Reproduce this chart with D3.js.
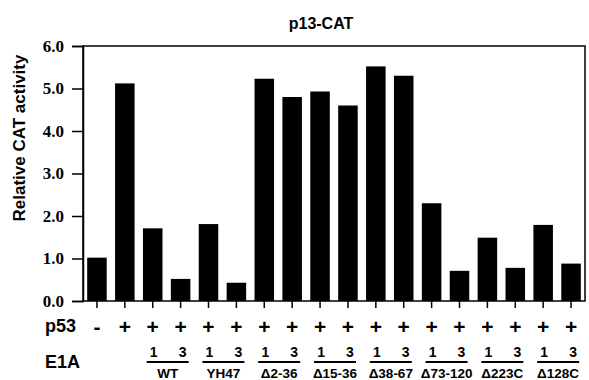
<!DOCTYPE html>
<html>
<head>
<meta charset="utf-8">
<script src="https://cdn.jsdelivr.net/npm/d3@7"></script>
<style>
  body { margin: 0; background: #fff; }
  svg { display: block; }
</style>
</head>
<body>
<div id="chart"></div>
<script>
// data
var lanes = ["ctrl", "p53", "WT-1", "WT-3", "YH47-1", "YH47-3", "d2-36-1", "d2-36-3",
    "d15-36-1", "d15-36-3", "d38-67-1", "d38-67-3", "d73-120-1", "d73-120-3",
    "d223C-1", "d223C-3", "d128C-1", "d128C-3"];
var activity = [1.02, 5.12, 1.71, 0.52, 1.81, 0.43, 5.23, 4.8, 4.93, 4.6, 5.52, 5.3,
    2.3, 0.71, 1.49, 0.78, 1.79, 0.88];
var p53Signs = ["-", "+", "+", "+", "+", "+", "+", "+", "+", "+", "+", "+", "+", "+", "+", "+", "+", "+"];
var groupNames = ["WT", "YH47", "\u03942-36", "\u039415-36", "\u039438-67", "\u039473-120", "\u0394223C", "\u0394128C"];
var doses = ["1", "3"];
var yTicks = [0, 1, 2, 3, 4, 5, 6];

var width = 589, height = 380;
var margin = {top: 46, right: 4, bottom: 79, left: 83};
var sans = "'Liberation Sans', Arial, sans-serif";
var serif = "'Liberation Serif', 'Times New Roman', serif";

var svg = d3.select("#chart").append("svg")
    .attr("width", width)
    .attr("height", height);

var x = d3.scaleBand()
    .domain(lanes)
    .range([margin.left, width - margin.right])
    .paddingInner(0.3)
    .paddingOuter(0.15);

var y = d3.scaleLinear()
    .domain([0, 6])
    .range([height - margin.bottom, margin.top]);

// title
svg.append("text")
    .attr("x", 321)
    .attr("y", 29)
    .attr("text-anchor", "middle")
    .style("font-family", sans)
    .style("font-weight", "bold")
    .style("font-size", "16px")
    .text("p13-CAT");

// bars
svg.selectAll("rect.bar")
    .data(activity)
    .enter()
    .append("rect")
    .attr("class", "bar")
    .attr("x", function (d, i) { return x(lanes[i]); })
    .attr("y", function (d) { return y(d); })
    .attr("width", x.bandwidth())
    .attr("height", function (d) { return y(0) - y(d); })
    .attr("fill", "#000");

// frame
svg.append("rect")
    .attr("x", margin.left)
    .attr("y", margin.top)
    .attr("width", width - margin.right - margin.left)
    .attr("height", y(0) - margin.top)
    .attr("fill", "none")
    .attr("stroke", "#000")
    .attr("stroke-width", 1.5);

// y axis
var yAxis = svg.append("g")
    .attr("transform", "translate(" + margin.left + ",0)")
    .call(d3.axisLeft(y).tickValues(yTicks).tickFormat(d3.format(".1f")).tickSize(11).tickPadding(8));
yAxis.select(".domain").attr("stroke-width", 1.5);
yAxis.selectAll(".tick line").attr("stroke-width", 1.5);
yAxis.selectAll("text")
    .style("font-family", serif)
    .style("font-weight", "bold")
    .style("font-size", "17px")
    .attr("fill", "#000");

svg.append("text")
    .attr("transform", "translate(25,138) rotate(-90)")
    .attr("text-anchor", "middle")
    .style("font-family", sans)
    .style("font-weight", "bold")
    .style("font-size", "17px")
    .text("Relative CAT activity");

// x axis ticks (no labels)
var xAxis = svg.append("g")
    .attr("transform", "translate(0," + y(0) + ")")
    .call(d3.axisBottom(x).tickSize(7).tickFormat(""));
xAxis.select(".domain").remove();
xAxis.selectAll(".tick line").attr("stroke-width", 1.5);

// p53 row
svg.append("text")
    .attr("x", 45).attr("y", 332)
    .style("font-family", sans).style("font-weight", "bold").style("font-size", "18px")
    .text("p53");

svg.selectAll("text.sign")
    .data(p53Signs)
    .enter()
    .append("text")
    .attr("class", "sign")
    .attr("x", function (d, i) { return x(lanes[i]) + x.bandwidth() / 2; })
    .attr("y", 334)
    .attr("text-anchor", "middle")
    .style("font-family", sans).style("font-weight", "bold").style("font-size", "21px")
    .text(function (d) { return d; });

// E1A row
svg.append("text")
    .attr("x", 45).attr("y", 368)
    .style("font-family", sans).style("font-weight", "bold").style("font-size", "18px")
    .text("E1A");

var groups = svg.selectAll("g.grp")
    .data(groupNames)
    .enter()
    .append("g")
    .attr("class", "grp");

groups.each(function (name, gi) {
    var g = d3.select(this);
    var a = lanes[2 + gi * 2], b = lanes[3 + gi * 2];
    var ca = x(a) + x.bandwidth() / 2, cb = x(b) + x.bandwidth() / 2;
    var mid = (ca + cb) / 2 + 1;
    doses.forEach(function (dose, k) {
        g.append("text")
            .attr("x", k === 0 ? ca + 1 : cb + 2)
            .attr("y", 357)
            .attr("text-anchor", "middle")
            .style("font-family", sans).style("font-weight", "bold").style("font-size", "14px")
            .text(dose);
    });
    g.append("line")
        .attr("x1", mid - 21).attr("x2", mid + 21)
        .attr("y1", 362).attr("y2", 362)
        .attr("stroke", "#000")
        .attr("stroke-width", 2);
    g.append("text")
        .attr("x", mid)
        .attr("y", 378)
        .attr("text-anchor", "middle")
        .style("font-family", sans).style("font-weight", "bold").style("font-size", "13.5px")
        .text(name);
});
</script>
</body>
</html>
